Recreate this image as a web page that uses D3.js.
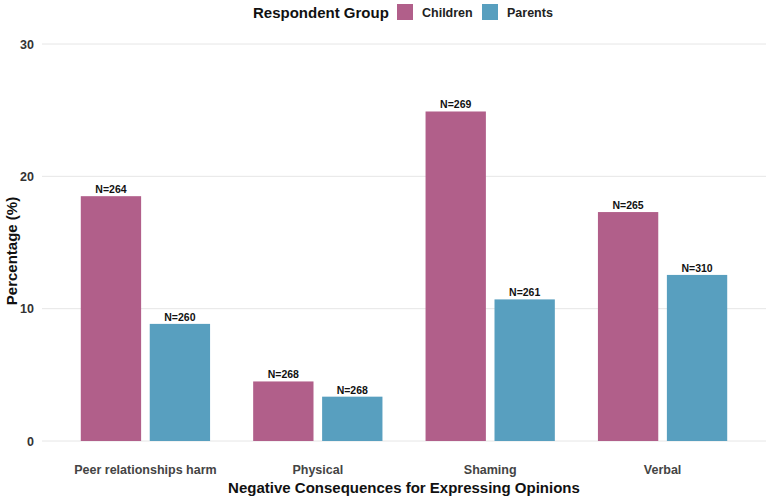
<!DOCTYPE html>
<html>
<head>
<meta charset="utf-8">
<script src="https://cdnjs.cloudflare.com/ajax/libs/d3/7.8.5/d3.min.js"></script>
<style>
  body { margin: 0; background: #fff; }
  svg { font-family: "Liberation Sans", Arial, sans-serif; }
</style>
</head>
<body>
<svg id="chart" width="767" height="498"></svg>
<script>
var categories = ["Peer relationships harm", "Physical", "Shaming", "Verbal"];
var groups = ["Children", "Parents"];
var childrenPct = [18.5, 4.5, 24.9, 17.3];
var parentsPct = [8.85, 3.35, 10.7, 12.55];
var childrenN = [264, 268, 269, 265];
var parentsN = [260, 268, 261, 310];
var yTicks = [0, 10, 20, 30];
var colors = ["#b15f8a", "#589fbf"];

var data = [];
categories.forEach(function (c, i) {
    data.push({ cat: c, group: "Children", value: childrenPct[i], n: childrenN[i] });
    data.push({ cat: c, group: "Parents", value: parentsPct[i], n: parentsN[i] });
});

var svg = d3.select("#chart"),
    margin = { top: 44, right: 1, bottom: 57, left: 42 },
    width = +svg.attr("width") - margin.left - margin.right,
    height = +svg.attr("height") - margin.top - margin.bottom,
    g = svg.append("g").attr("transform", "translate(" + margin.left + "," + margin.top + ")");

var x0 = d3.scaleBand()
    .domain(categories)
    .range([0, width])
    .paddingInner(0)
    .paddingOuter(0.1);

var bw = x0.bandwidth();
var x1 = d3.scaleBand()
    .domain(groups)
    .range([0.1 * bw, 0.9 * bw]);
var barW = 0.35 * bw;

var y = d3.scaleLinear()
    .domain([0, 30])
    .range([height, 0]);

var z = d3.scaleOrdinal().domain(groups).range(colors);

// gridlines
g.append("g")
    .selectAll("line")
    .data(yTicks)
    .enter().append("line")
    .attr("x1", 0)
    .attr("x2", width)
    .attr("y1", function (d) { return y(d); })
    .attr("y2", function (d) { return y(d); })
    .attr("stroke", "#e6e6e6")
    .attr("stroke-width", 1);

// bars
g.append("g")
    .selectAll("rect")
    .data(data)
    .enter().append("rect")
    .attr("x", function (d) { return x0(d.cat) + x1(d.group) + (x1.bandwidth() - barW) / 2; })
    .attr("y", function (d) { return y(d.value); })
    .attr("width", barW)
    .attr("height", function (d) { return y(0) - y(d.value); })
    .attr("fill", function (d) { return z(d.group); });

// N labels
g.append("g")
    .selectAll("text")
    .data(data)
    .enter().append("text")
    .attr("x", function (d) { return x0(d.cat) + x1(d.group) + x1.bandwidth() / 2; })
    .attr("y", function (d) { return y(d.value) - 3; })
    .attr("text-anchor", "middle")
    .attr("font-size", "10.5px")
    .attr("font-weight", "bold")
    .attr("fill", "#111")
    .text(function (d) { return "N=" + d.n; });

// y axis
var yAxis = g.append("g")
    .call(d3.axisLeft(y).tickValues(yTicks).tickSize(0).tickPadding(8));
yAxis.select(".domain").remove();
yAxis.selectAll("text")
    .attr("font-size", "12.5px")
    .attr("font-weight", "bold")
    .attr("fill", "#333")
    .attr("font-family", "Liberation Sans, Arial, sans-serif");

// x axis
var xAxis = g.append("g")
    .attr("transform", "translate(0," + height + ")")
    .call(d3.axisBottom(x0).tickSize(0).tickPadding(24));
xAxis.select(".domain").remove();
xAxis.selectAll("text")
    .attr("font-size", "12.5px")
    .attr("font-weight", "bold")
    .attr("fill", "#444")
    .attr("font-family", "Liberation Sans, Arial, sans-serif");

// axis titles
svg.append("text")
    .attr("x", margin.left + width / 2)
    .attr("y", 493)
    .attr("text-anchor", "middle")
    .attr("font-size", "15px")
    .attr("font-weight", "bold")
    .attr("fill", "#111")
    .text("Negative Consequences for Expressing Opinions");

svg.append("text")
    .attr("transform", "translate(17," + (251) + ") rotate(-90)")
    .attr("text-anchor", "middle")
    .attr("font-size", "15px")
    .attr("font-weight", "bold")
    .attr("fill", "#111")
    .text("Percentage (%)");

// legend
var legend = svg.append("g").attr("transform", "translate(0,0)");
legend.append("text")
    .attr("x", 253)
    .attr("y", 18)
    .attr("font-size", "15px")
    .attr("font-weight", "bold")
    .attr("fill", "#111")
    .text("Respondent Group");

var li = legend.selectAll("g.item")
    .data(groups)
    .enter().append("g")
    .attr("class", "item")
    .attr("transform", function (d, i) { return "translate(" + (397 + i * 85) + ",4)"; });

li.append("rect")
    .attr("width", 16)
    .attr("height", 16)
    .attr("fill", function (d) { return z(d); });

li.append("text")
    .attr("x", 25)
    .attr("y", 13)
    .attr("font-size", "12.5px")
    .attr("font-weight", "bold")
    .attr("fill", "#222")
    .text(function (d) { return d; });
</script>
</body>
</html>
